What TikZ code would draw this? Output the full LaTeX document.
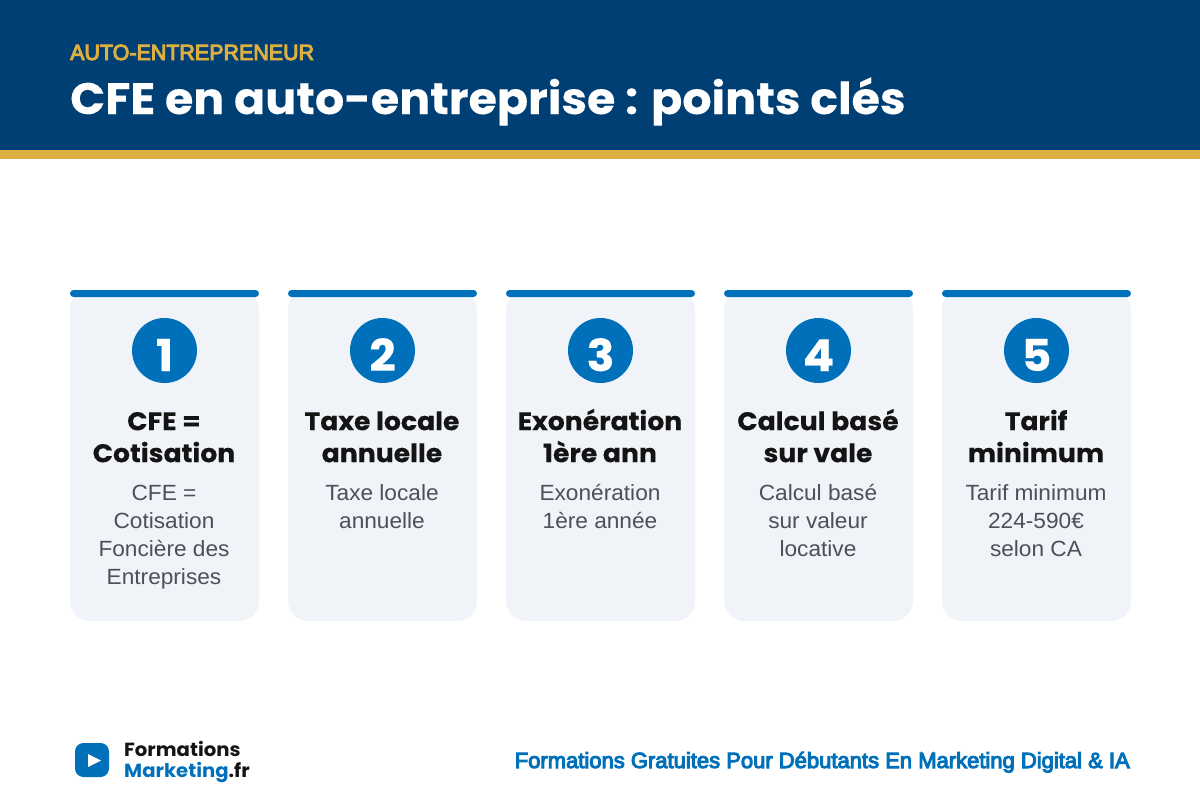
\documentclass[tikz,border=0pt]{standalone}
\usepackage{fontspec}
\setmainfont{Liberation Sans}
\newfontfamily\headfont[UprightFont=*-Bold,FakeStretch=1.045,FakeBold=0.2]{Poppins}
\newfontfamily\logofont[UprightFont=*-Bold,FakeStretch=1.035]{Poppins}
\newfontfamily\bodyfont[FakeStretch=1.03]{Liberation Sans}
\newfontfamily\semifont[FakeBold=4.5]{Liberation Sans}
\newfontfamily\kickerfont[FakeBold=4.5,FakeStretch=0.975]{Liberation Sans}
\definecolor{navy}{HTML}{003F73}
\definecolor{gold}{HTML}{DDAF42}
\definecolor{blue}{HTML}{0070BA}
\definecolor{cardbg}{HTML}{F0F4F8}
\definecolor{ink}{HTML}{141414}
\definecolor{grey}{HTML}{4B5059}
\tikzset{
  x=1pt,y=-1pt,
  cardbox/.style={fill=cardbg,rounded corners=20pt},
  topbar/.style={fill=blue,rounded corners=3.5pt},
  numdisc/.style={circle,fill=blue,minimum size=65pt,inner sep=0pt,text=white,font=\headfont\fontsize{44}{44}\selectfont},
  cardtitle/.style={anchor=north,align=center,text=ink,inner sep=0pt,font=\headfont\fontsize{25.5}{32}\selectfont},
  cardbody/.style={anchor=north,align=center,text=grey,inner sep=0pt,font=\bodyfont\fontsize{22}{28}\selectfont},
}
\newcommand{\card}[4]{%
  \fill[cardbox] (#1,290) rectangle (#1+189,621);
  \fill[topbar] (#1,290) rectangle (#1+189,297);
  \node[numdisc] (num#2) at (#1+94.5,350.5) {\raisebox{-20.5pt}[0pt][0pt]{#2}};
  \node[cardtitle] (title#2) at (#1+94,406) {\rule{0pt}{24pt}#3};
  \node[cardbody] (body#2) at (#1+94,476) {\rule{0pt}{24pt}#4};
}
\begin{document}
\begin{tikzpicture}
\useasboundingbox (0,0) rectangle (1200,800);
\fill[white] (0,0) rectangle (1200,800);
\fill[navy] (0,0) rectangle (1200,150);
\fill[gold] (0,150) rectangle (1200,159);
\node[anchor=base west,inner sep=0pt,text=gold,font=\kickerfont\fontsize{22}{22}\selectfont] (kicker) at (70,60) {AUTO-ENTREPRENEUR};
\node[anchor=base west,inner sep=0pt,text=white,font=\headfont\fontsize{44}{44}\selectfont] (maintitle) at (70,114) {CFE en auto-entreprise : points clés};
\card{70}{1}{CFE =\\Cotisation}{CFE =\\Cotisation\\Foncière des\\Entreprises}
\card{288}{2}{Taxe locale\\annuelle}{Taxe locale\\annuelle}
\card{506}{3}{Exonération\\1ère ann}{Exonération\\1ère année}
\card{724}{4}{Calcul basé\\sur vale}{Calcul basé\\sur valeur\\locative}
\card{942}{5}{Tarif\\minimum}{Tarif minimum\\224-590€\\selon CA}
\fill[blue,rounded corners=8.5pt] (75,743) rectangle (109,777);
\fill[white] (88,754) -- (101,760.5) -- (88,767) -- cycle;
\node[anchor=base west,inner sep=0pt,text=ink,font=\logofont\fontsize{19}{19}\selectfont] (logoa) at (124,756) {Formations};
\node[anchor=base west,inner sep=0pt,text=blue,font=\logofont\fontsize{19}{19}\selectfont] (logob) at (124,777) {Marketing\textcolor{ink}{.fr}};
\node[anchor=base east,inner sep=0pt,text=blue,font=\semifont\fontsize{22}{22}\selectfont] (tagline) at (1130,768) {Formations Gratuites Pour Débutants En Marketing Digital \& IA};
\end{tikzpicture}
\end{document}
